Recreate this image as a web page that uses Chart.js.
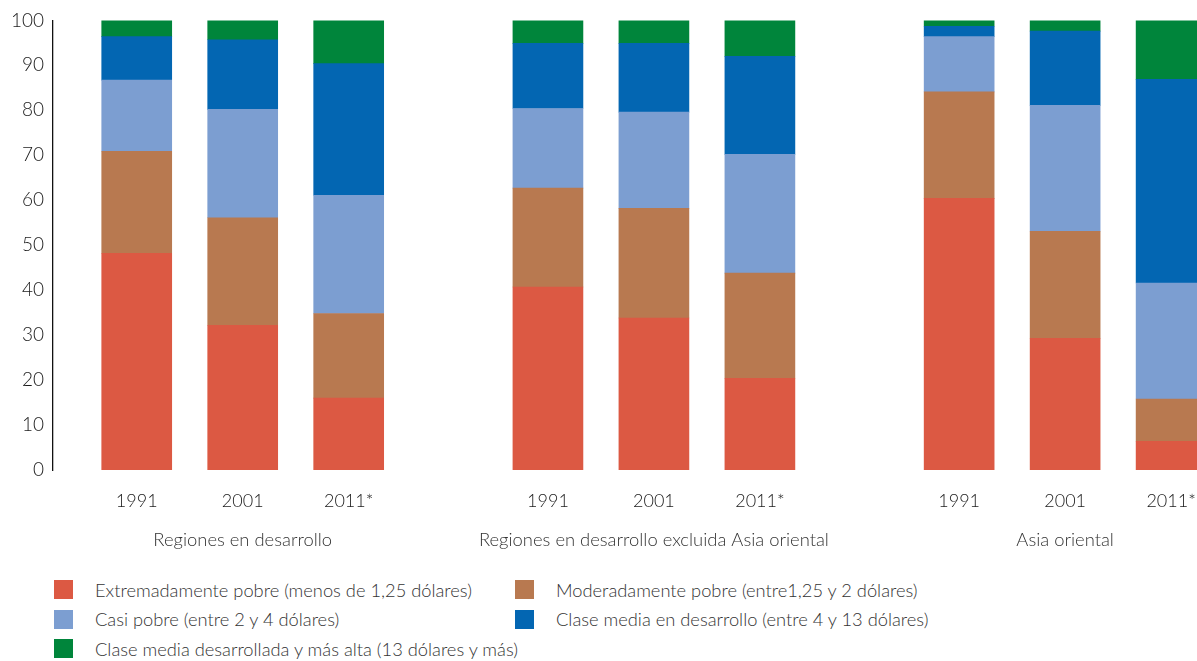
<!DOCTYPE html>
<html lang="es">
<head>
<meta charset="utf-8">
<script src="https://cdn.jsdelivr.net/npm/chart.js@4/dist/chart.umd.min.js"></script>
<style>
    body { margin: 0; background: #fff; width: 1197px; height: 661px; overflow: hidden; position: relative; font-family: Lato, "Open Sans", sans-serif; }
    /* canvas a bit wider than the window so the last bar gets cut like in the original */
    #wrap { position: absolute; left: 0; top: 0; width: 1240px; height: 560px; }
    #legend { position: absolute; left: 54px; top: 575px; display: grid; grid-template-columns: 461px auto; row-gap: 0; }
    .item { display: flex; align-items: center; height: 29.5px; font-size: 18.3px; font-weight: 300; color: #333; white-space: nowrap; }
    .box { width: 19px; height: 19px; margin-right: 22px; flex: none; }
</style>
</head>
<body>
<div id="wrap"><canvas id="chart"></canvas></div>
<div id="legend"></div>
<script>
const years = ['1991', '2001', '2011*'];
const groups = ['Regiones en desarrollo', 'Regiones en desarrollo excluida Asia oriental', 'Asia oriental'];
const classes = [
    'Extremadamente pobre (menos de 1,25 dólares)',
    'Moderadamente pobre (entre1,25 y 2 dólares)',
    'Casi pobre (entre 2 y 4 dólares)',
    'Clase media en desarrollo (entre 4 y 13 dólares)',
    'Clase media desarrollada y más alta (13 dólares y más)'
];
const classColors = ['#DC5943', '#B87950', '#7C9ED1', '#0366B2', '#00853B'];

// values in %, order: group 1 (1991, 2001, 2011*), group 2, group 3
const extremadamente = [48.2, 32.2, 16.0, 40.7, 33.8, 20.4, 60.4, 29.3, 6.4];
const moderadamente = [22.7, 23.9, 18.8, 22.0, 24.4, 23.4, 23.7, 23.8, 9.4];
const casiPobre = [15.8, 24.1, 26.3, 17.7, 21.4, 26.4, 12.3, 28.0, 25.8];
const mediaDesarrollo = [9.7, 15.5, 29.3, 14.5, 15.3, 21.8, 2.3, 16.5, 45.3];
const mediaAlta = [3.6, 4.3, 9.8, 5.1, 5.1, 8.0, 1.3, 2.6, 13.1];
const yTicks = [0, 10, 20, 30, 40, 50, 60, 70, 80, 90, 100];

const series = [extremadamente, moderadamente, casiPobre, mediaDesarrollo, mediaAlta];

// bars sit one unit apart inside a group, groups are a bit further apart
const groupStride = 3.88;
const barPos = [];
groups.forEach((g, gi) => years.forEach((y, yi) => barPos.push(gi * groupStride + yi)));
const groupPos = groups.map((g, gi) => gi * groupStride + 1);

const datasets = series.map((values, i) => ({
    label: classes[i],
    data: values.map((v, k) => ({ x: barPos[k], y: v })),
    backgroundColor: classColors[i],
    borderWidth: 0,
    barThickness: 70,
}));

const tickFont = { family: 'Lato', size: 18, weight: 300 };
const xMin = -0.79;
const xMax = 10.41;

new Chart(document.getElementById('chart'), {
    type: 'bar',
    data: { datasets: datasets },
    options: {
        responsive: true,
        maintainAspectRatio: false,
        animation: false,
        layout: { padding: { top: 20, right: 0, bottom: 0, left: 0 } },
        plugins: { legend: { display: false }, tooltip: { enabled: false } },
        scales: {
            x: {
                type: 'linear',
                stacked: true,
                offset: false,
                min: xMin,
                max: xMax,
                weight: 0,
                grid: { display: false, drawTicks: false },
                border: { display: false },
                afterBuildTicks: (scale) => { scale.ticks = barPos.map(v => ({ value: v })); },
                afterFit: (scale) => { scale.height = 45; },
                ticks: {
                    autoSkip: false,
                    maxRotation: 0,
                    padding: 20,
                    color: '#1a1a1a',
                    font: tickFont,
                    callback: (value, index) => years[index % years.length],
                },
            },
            x2: {
                type: 'linear',
                position: 'bottom',
                offset: false,
                min: xMin,
                max: xMax,
                weight: 1,
                grid: { display: false, drawTicks: false },
                border: { display: false },
                afterBuildTicks: (scale) => { scale.ticks = groupPos.map(v => ({ value: v })); },
                afterFit: (scale) => { scale.height = 45; },
                ticks: {
                    autoSkip: false,
                    maxRotation: 0,
                    padding: 14,
                    color: '#333',
                    font: { family: 'Lato', size: 18.4, weight: 300 },
                    callback: (value, index) => groups[index],
                },
            },
            y: {
                stacked: true,
                min: 0,
                max: 100,
                grid: { display: false, drawTicks: false },
                border: { display: true, color: '#111', width: 1.3 },
                afterBuildTicks: (scale) => { scale.ticks = yTicks.map(v => ({ value: v })); },
                afterFit: (scale) => { scale.width = 53; },
                ticks: { padding: 9, color: '#1a1a1a', font: { family: 'Lato', size: 19, weight: 300 } },
            },
        },
    },
});

/* html legend, two columns like the original */
const legend = document.getElementById('legend');
classes.forEach((name, i) => {
    const item = document.createElement('div');
    item.className = 'item';
    const box = document.createElement('span');
    box.className = 'box';
    box.style.background = classColors[i];
    item.appendChild(box);
    item.appendChild(document.createTextNode(name));
    legend.appendChild(item);
});
</script>
</body>
</html>
